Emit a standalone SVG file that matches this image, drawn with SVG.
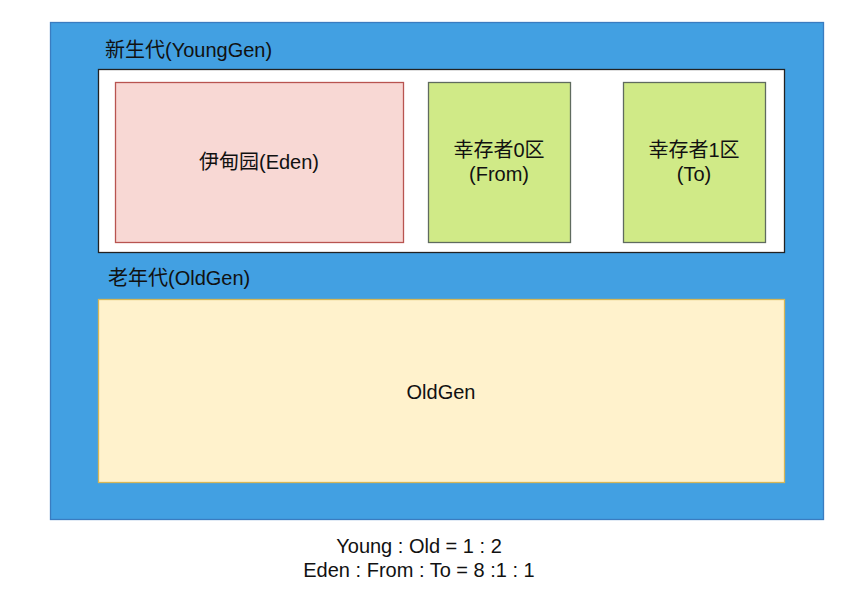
<svg xmlns="http://www.w3.org/2000/svg" width="854" height="592" viewBox="0 0 854 592">
<style>
text{font-family:"Liberation Sans","Noto Sans CJK SC",sans-serif;font-size:20px;fill:#111}
.c{text-anchor:middle}
.sv{fill:#d0ea87;stroke:#5f6b5f;stroke-width:1.3}
</style>
<rect width="854" height="592" fill="#ffffff"/>
<g id="heap">
<rect x="50.5" y="22.5" width="773" height="497" fill="#42a0e2" stroke="#3a7cc0" stroke-width="1.3"/>
</g>
<g id="young">
<text x="105" y="57">新生代(YoungGen)</text>
<rect x="98.5" y="69.5" width="686" height="183" fill="#ffffff" stroke="#222222" stroke-width="1.3"/>
</g>
<g id="eden">
<rect x="115.5" y="82.5" width="288" height="160" fill="#f8d8d4" stroke="#b85450" stroke-width="1.3"/>
<text class="c" x="259" y="169">伊甸园(Eden)</text>
</g>
<g id="from">
<rect class="sv" x="428.5" y="82.5" width="142" height="160"/>
<text class="c" x="499" y="157">幸存者0区</text>
<text class="c" x="499" y="181">(From)</text>
</g>
<g id="to">
<rect class="sv" x="623.5" y="82.5" width="142" height="160"/>
<text class="c" x="694" y="157">幸存者1区</text>
<text class="c" x="694" y="181">(To)</text>
</g>
<g id="old">
<text x="108" y="285">老年代(OldGen)</text>
<rect x="98.5" y="299.5" width="686" height="183" fill="#fff2cc" stroke="#d6b656" stroke-width="1.3"/>
<text class="c" x="441" y="399">OldGen</text>
</g>
<g id="ratio">
<text class="c" x="419" y="553">Young : Old = 1 : 2</text>
<text class="c" x="419" y="577">Eden : From : To = 8 :1 : 1</text>
</g>
<g id="connectors"></g>
</svg>
